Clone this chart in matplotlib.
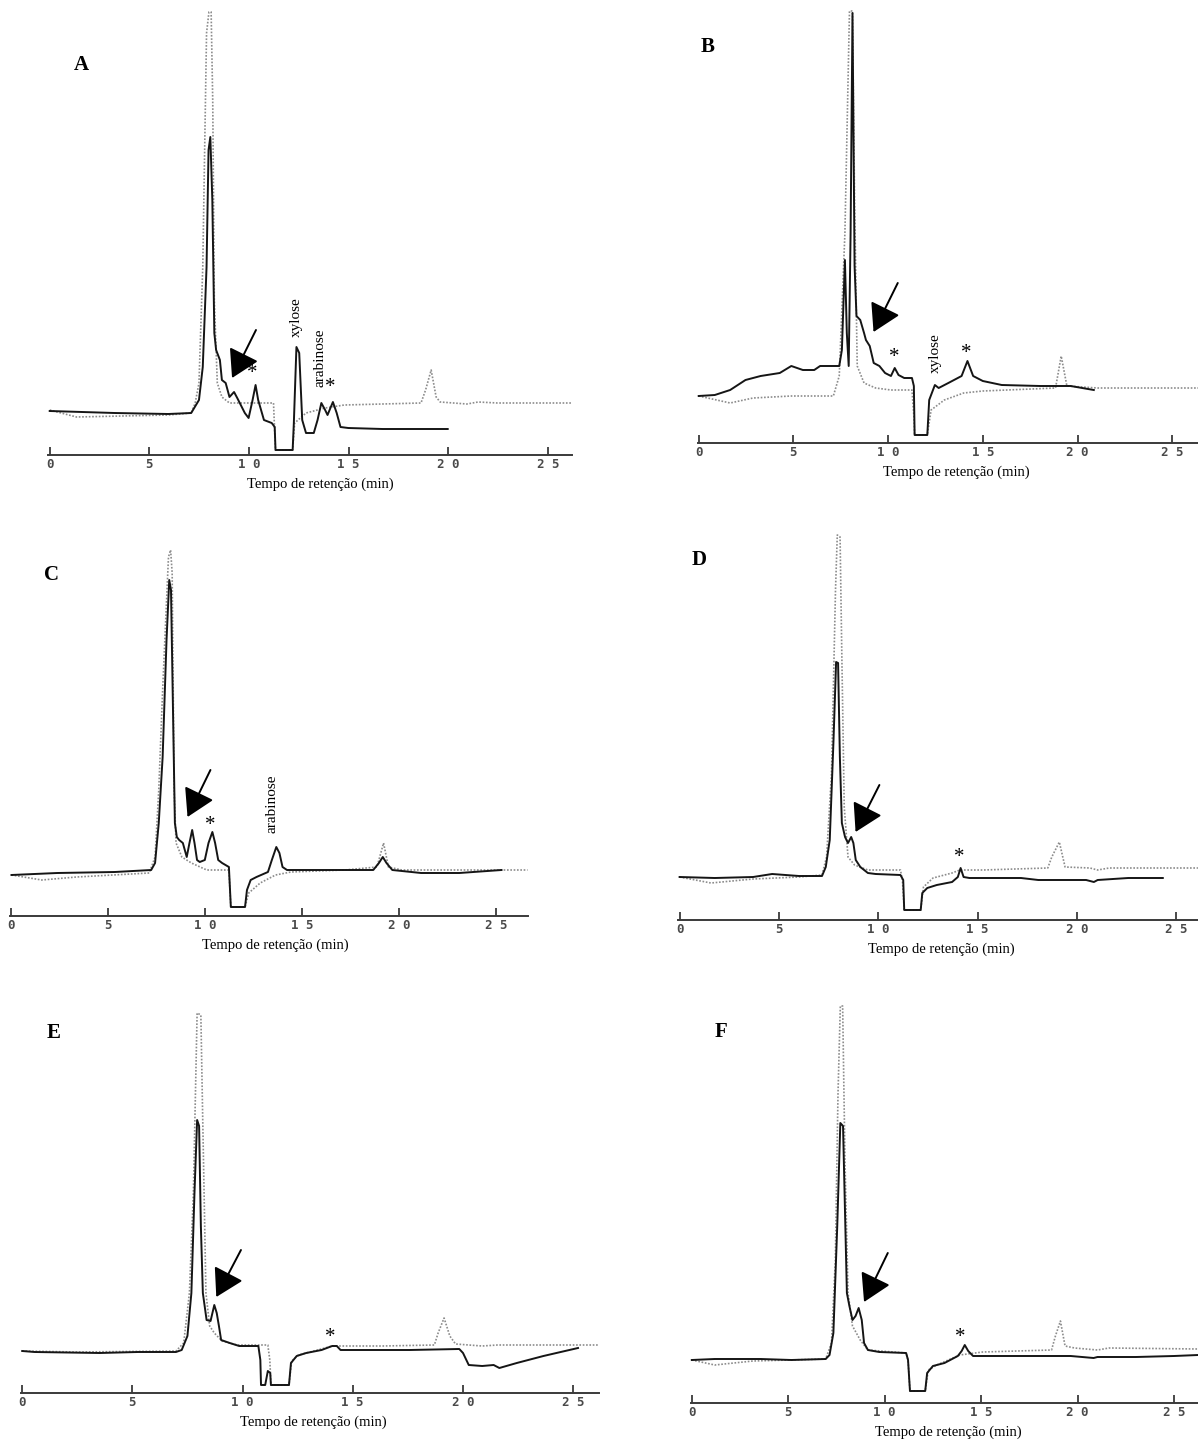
import matplotlib
matplotlib.use("Agg")
import matplotlib.pyplot as plt
from matplotlib.transforms import blended_transform_factory

# ---------------- data (retention time in min, detector response in arbitrary units) -------------
tick_values = [0, 5, 10, 15, 20, 25]
tick_labels = ["0", "5", "1 0", "1 5", "2 0", "2 5"]
x_label = "Tempo de retenção (min)"

A_black_t = [0, 3.26, 5.95, 7.10, 7.49, 7.68, 7.87, 7.97, 8.06, 8.16, 8.26, 8.35, 8.54, 8.64, 8.83, 9.02,
             9.25, 9.41, 9.79, 9.98, 10.18, 10.33, 10.46, 10.75, 11.14, 11.29, 11.33, 12.19, 12.25, 12.38,
             12.52, 12.67, 12.86, 13.25, 13.44, 13.63, 13.82, 13.94, 14.21, 14.40, 14.59, 14.98, 16.7, 19.97]
A_black_y = [44, 42, 41, 42, 55, 88, 188, 305, 318, 255, 122, 105, 95, 75, 72, 58,
             63, 57, 42, 37, 55, 70, 55, 35, 32, 28, 5, 5, 32, 108,
             102, 35, 22, 22, 35, 52, 45, 40, 53, 42, 28, 27, 26, 26]
A_gray_t = [0, 1.34, 5.95, 7.1, 7.3, 7.49, 7.68, 7.87, 7.99, 8.10, 8.18, 8.26, 8.41, 8.64, 9.02, 11.23,
            11.29, 11.33, 12.19, 12.29, 12.86, 13.82, 14.78, 16.7, 18.63, 18.86, 19.14, 19.39, 19.59,
            20.93, 21.5, 22.47, 26.2]
A_gray_y = [45, 38, 40, 42, 52, 72, 188, 422, 443, 443, 355, 155, 72, 58, 52, 52,
            22, 5, 5, 32, 42, 47, 50, 51, 52, 65, 85, 58, 53,
            51, 53, 52, 52]

B_black_t = [0, 0.85, 1.66, 2.47, 3.27, 4.28, 4.89, 5.5, 6.10, 6.41, 7.42, 7.56, 7.72, 7.82, 7.92, 8.02,
             8.12, 8.23, 8.33, 8.53, 8.73, 8.83, 9.03, 9.24, 9.54, 9.84, 10.15, 10.35, 10.55, 10.85,
             11.26, 11.36, 11.40, 12.07, 12.17, 12.47, 12.67, 13.18, 13.88, 14.19, 14.49, 15.0, 16.0,
             18.03, 19.64, 20.86]
B_black_y = [47, 48, 53, 63, 67, 70, 77, 73, 73, 77, 77, 93, 183, 110, 77, 210,
             430, 177, 127, 123, 110, 103, 97, 80, 77, 70, 67, 75, 68, 65,
             65, 57, 8, 8, 43, 58, 55, 60, 67, 82, 67, 62, 58,
             57, 57, 53]
B_gray_t = [0, 1.66, 2.87, 4.89, 7.11, 7.42, 7.72, 7.96, 8.12, 8.23, 8.37, 8.73, 9.34, 10.15, 11.26,
            11.36, 11.40, 12.07, 12.27, 12.97, 13.99, 15.0, 18.84, 19.14, 19.44, 21.06, 26.5]
B_gray_y = [47, 40, 45, 47, 47, 67, 210, 432, 432, 243, 77, 60, 55, 53, 53,
            27, 8, 8, 33, 43, 50, 52, 55, 87, 57, 55, 55]

C_black_t = [0.04, 2.4, 5.36, 7.23, 7.43, 7.62, 7.82, 8.02, 8.16, 8.25, 8.35, 8.45, 8.55, 8.67, 8.86,
             9.06, 9.2, 9.34, 9.46, 9.59, 9.73, 9.99, 10.18, 10.38, 10.52, 10.68, 10.88, 11.23, 11.33,
             12.06, 12.16, 12.35, 12.65, 13.24, 13.44, 13.67, 13.83, 13.99, 14.22, 16.19, 18.66, 18.95,
             19.15, 19.34, 19.64, 21.12, 23.09, 25.26]
C_black_y = [41, 43, 44, 46, 53, 93, 159, 276, 336, 326, 209, 93, 79, 76, 73,
             59, 73, 86, 73, 56, 54, 56, 73, 84, 73, 56, 53, 49, 9,
             9, 26, 36, 39, 44, 56, 69, 63, 49, 46, 46, 46, 53,
             59, 53, 46, 43, 43, 46]
C_gray_t = [0.04, 1.6, 3.39, 7.13, 7.43, 7.62, 7.82, 8.12, 8.23, 8.31, 8.41, 8.51, 8.81, 9.3, 10.09,
            11.23, 11.33, 12.06, 12.25, 12.84, 13.63, 14.42, 17.18, 18.85, 19.19, 19.44, 20.13, 26.6]
C_gray_y = [41, 36, 39, 43, 59, 126, 226, 359, 366, 343, 126, 73, 59, 53, 46,
            46, 9, 9, 23, 33, 41, 44, 46, 49, 73, 49, 46, 46]

D_black_t = [0, 1.77, 3.7, 4.66, 6.01, 7.17, 7.36, 7.56, 7.75, 7.88, 7.98, 8.07, 8.17, 8.33, 8.48,
             8.64, 8.75, 8.87, 9.1, 9.48, 9.87, 11.12, 11.26, 11.31, 12.14, 12.22, 12.47, 12.95, 13.72,
             14.01, 14.15, 14.3, 14.59, 17.19, 18.06, 20.47, 20.86, 21.05, 22.59, 24.33]
D_black_y = [43, 42, 43, 46, 44, 44, 53, 80, 180, 258, 257, 163, 97, 83, 77,
             83, 77, 60, 53, 47, 46, 45, 40, 10, 10, 27, 32, 35, 38,
             43, 52, 43, 42, 42, 40, 40, 38, 40, 42, 42]
D_gray_t = [0, 1.58, 3.7, 6.01, 7.17, 7.4, 7.65, 7.85, 7.94, 8.08, 8.17, 8.29, 8.48, 8.81, 9.48, 11.12,
            11.22, 11.31, 12.14, 12.28, 12.76, 13.72, 14.11, 15.27, 18.54, 18.74, 19.12, 19.41, 20.66,
            21.05, 21.63, 26.1]
D_gray_y = [43, 37, 41, 43, 45, 63, 147, 330, 385, 383, 263, 113, 63, 55, 50, 50,
            40, 10, 10, 33, 42, 47, 50, 50, 52, 63, 78, 53, 52,
            50, 52, 52]

E_black_t = [0, 0.56, 3.51, 5.25, 6.98, 7.24, 7.5, 7.68, 7.82, 7.94, 8.03, 8.11, 8.2, 8.37, 8.55, 8.72,
             8.83, 8.93, 9.03, 9.42, 9.85, 10.72, 10.81, 10.84, 11.03, 11.15, 11.26, 11.29, 12.11, 12.2,
             12.46, 12.89, 13.59, 14.07, 14.28, 14.45, 16.37, 17.58, 19.84, 20.01, 20.27, 20.88, 21.4,
             21.66, 22.45, 23.66, 25.23]
E_black_y = [42, 41, 40, 41, 41, 43, 57, 100, 200, 273, 267, 167, 100, 73, 72, 88,
             80, 67, 53, 50, 47, 47, 33, 8, 8, 22, 20, 8, 8, 30,
             37, 40, 43, 47, 47, 43, 43, 43, 44, 40, 28, 27, 28,
             25, 30, 37, 45]
E_gray_t = [0, 2.47, 6.98, 7.33, 7.59, 7.77, 7.94, 8.11, 8.2, 8.34, 8.51, 8.72, 9.07, 9.76, 11.15,
            11.24, 11.29, 12.11, 12.23, 12.54, 13.41, 14.07, 14.63, 16.37, 18.71, 18.88, 19.15, 19.41,
            19.67, 20.88, 21.58, 26.2]
E_gray_y = [42, 41, 42, 50, 100, 200, 380, 378, 267, 100, 67, 60, 52, 48, 48,
            33, 8, 8, 32, 38, 43, 47, 47, 47, 48, 60, 75, 57,
            49, 47, 48, 48]

F_black_t = [0, 1.19, 3.57, 5.16, 6.94, 7.14, 7.34, 7.54, 7.7, 7.84, 7.94, 8.04, 8.17, 8.33, 8.49,
             8.65, 8.81, 8.93, 9.13, 9.72, 11.11, 11.21, 11.31, 12.1, 12.2, 12.5, 13.1, 13.79, 13.99,
             14.15, 14.33, 14.58, 17.06, 19.64, 20.83, 21.03, 23.02, 25.0, 26.25]
F_black_y = [43, 44, 44, 43, 44, 48, 70, 177, 280, 277, 193, 110, 97, 83, 87,
             95, 83, 60, 53, 51, 50, 43, 12, 12, 30, 37, 40, 47, 52,
             58, 52, 47, 47, 47, 45, 46, 46, 47, 48]
F_gray_t = [0, 1.19, 3.17, 6.94, 7.24, 7.44, 7.58, 7.7, 7.82, 7.94, 8.1, 8.33, 8.73, 9.13, 11.11,
            11.21, 11.31, 12.1, 12.26, 12.7, 13.89, 15.08, 18.65, 18.85, 19.11, 19.35, 19.84, 21.03,
            21.63, 26.25]
F_gray_y = [43, 38, 42, 44, 60, 143, 310, 397, 397, 243, 110, 77, 63, 53, 50,
            43, 12, 12, 33, 38, 48, 51, 53, 67, 82, 57, 55, 53,
            55, 54]

# annotations: (time, response) positions of labels, asterisks and arrows
A_names = [("xylose", 12.39, 138), ("arabinose", 13.54, 97)]
A_stars = [(10.18, 85), (14.06, 70)]
A_arrow = (10.35, 125, 9.15, 77)
B_names = [("xylose", 12.47, 90)]
B_stars = [(10.35, 88), (14.15, 93)]
B_arrow = (10.51, 160, 9.23, 111)
C_names = [("arabinose", 13.47, 112)]
C_stars = [(10.28, 93)]
C_arrow = (10.28, 146, 9.10, 99)
D_names = []
D_stars = [(14.07, 65)]
D_arrow = (10.06, 135, 8.86, 88)
E_names = []
E_stars = [(13.97, 58)]
E_arrow = (9.93, 143, 8.81, 96)
F_names = []
F_stars = [(13.93, 68)]
F_arrow = (10.16, 150, 8.93, 101)

# ---------------- layout (pixels) ----------------
W, H = 1198, 1441
layout = {
    "A": dict(x0=49.7, s=19.93, xmin=-0.1, xmax=26.2, ybase=455, ytop=0, lab=(1.6, 390), xl=13.6),
    "B": dict(x0=698.7, s=18.94, xmin=-0.06, xmax=26.36, ybase=443, ytop=0, lab=(0.45, 396), xl=13.6),
    "C": dict(x0=10.7, s=19.43, xmin=-0.06, xmax=26.6, ybase=916, ytop=500, lab=(2.1, 341), xl=13.6),
    "D": dict(x0=679.6, s=19.86, xmin=-0.06, xmax=26.1, ybase=920, ytop=500, lab=(1.0, 360), xl=13.2),
    "E": dict(x0=22.2, s=22.03, xmin=-0.05, xmax=26.2, ybase=1393, ytop=990, lab=(1.43, 360), xl=13.2),
    "F": dict(x0=691.8, s=19.29, xmin=-0.03, xmax=26.25, ybase=1403, ytop=990, lab=(1.49, 371), xl=13.3),
}
panels = {
    "A": (A_black_t, A_black_y, A_gray_t, A_gray_y, A_names, A_stars, A_arrow),
    "B": (B_black_t, B_black_y, B_gray_t, B_gray_y, B_names, B_stars, B_arrow),
    "C": (C_black_t, C_black_y, C_gray_t, C_gray_y, C_names, C_stars, C_arrow),
    "D": (D_black_t, D_black_y, D_gray_t, D_gray_y, D_names, D_stars, D_arrow),
    "E": (E_black_t, E_black_y, E_gray_t, E_gray_y, E_names, E_stars, E_arrow),
    "F": (F_black_t, F_black_y, F_gray_t, F_gray_y, F_names, F_stars, F_arrow),
}

SERIF = ["Liberation Serif", "DejaVu Serif"]
fig = plt.figure(figsize=(W / 100, H / 100), dpi=100)
fig.patch.set_facecolor("white")

for key, (bt, by, gt, gy, names, stars, arrow) in panels.items():
    L = layout[key]
    left = L["x0"] + L["xmin"] * L["s"]
    right = L["x0"] + L["xmax"] * L["s"]
    hpx = L["ybase"] - L["ytop"]
    ax = fig.add_axes([left / W, (H - L["ybase"]) / H, (right - left) / W, hpx / H])
    ax.set_xlim(L["xmin"], L["xmax"])
    ax.set_ylim(0, hpx)
    ax.patch.set_alpha(0)
    for sp in ("top", "left", "right"):
        ax.spines[sp].set_visible(False)
    ax.spines["bottom"].set_color("#3a3a3a")
    ax.spines["bottom"].set_linewidth(1.4)
    ax.set_yticks([])
    ax.set_xticks(tick_values)
    ax.set_xticklabels(tick_labels, family="DejaVu Sans Mono", fontsize=9, fontweight="bold",
                       color="#4a4a4a")
    ax.tick_params(axis="x", direction="in", length=6, width=1.3, color="#3a3a3a", pad=2)

    ax.plot(gt, gy, color="#8c8c8c", lw=1.2, ls=(0, (1, 1)), zorder=2, clip_on=False)
    ax.plot(bt, by, color="#151515", lw=1.4, zorder=3, clip_on=False)

    ax.text(L["lab"][0], L["lab"][1], key, family=SERIF, fontweight="bold", fontsize=15,
            ha="center", va="center")
    for name, tx, ty in names:
        ax.text(tx, ty, name, family=SERIF, fontsize=11, rotation=90, ha="center", va="center")
    for sx, sy in stars:
        ax.text(sx, sy - 3, "*", family=SERIF, fontsize=15, ha="center", va="center")
    tx0, ty0, tx1, ty1 = arrow
    ax.annotate("", xy=(tx1, ty1), xytext=(tx0, ty0),
                arrowprops=dict(arrowstyle="-|>,head_length=0.85,head_width=0.5",
                                color="black", lw=1.4, shrinkA=0, shrinkB=0,
                                mutation_scale=20))
    tr = blended_transform_factory(ax.transData, ax.transAxes)
    ax.annotate(x_label, xy=(L["xl"], 0), xycoords=tr, xytext=(0, -29),
                textcoords="offset pixels", ha="center", va="center",
                family=SERIF, fontsize=10.5)

fig.savefig("out.png", dpi=100, facecolor="white")
